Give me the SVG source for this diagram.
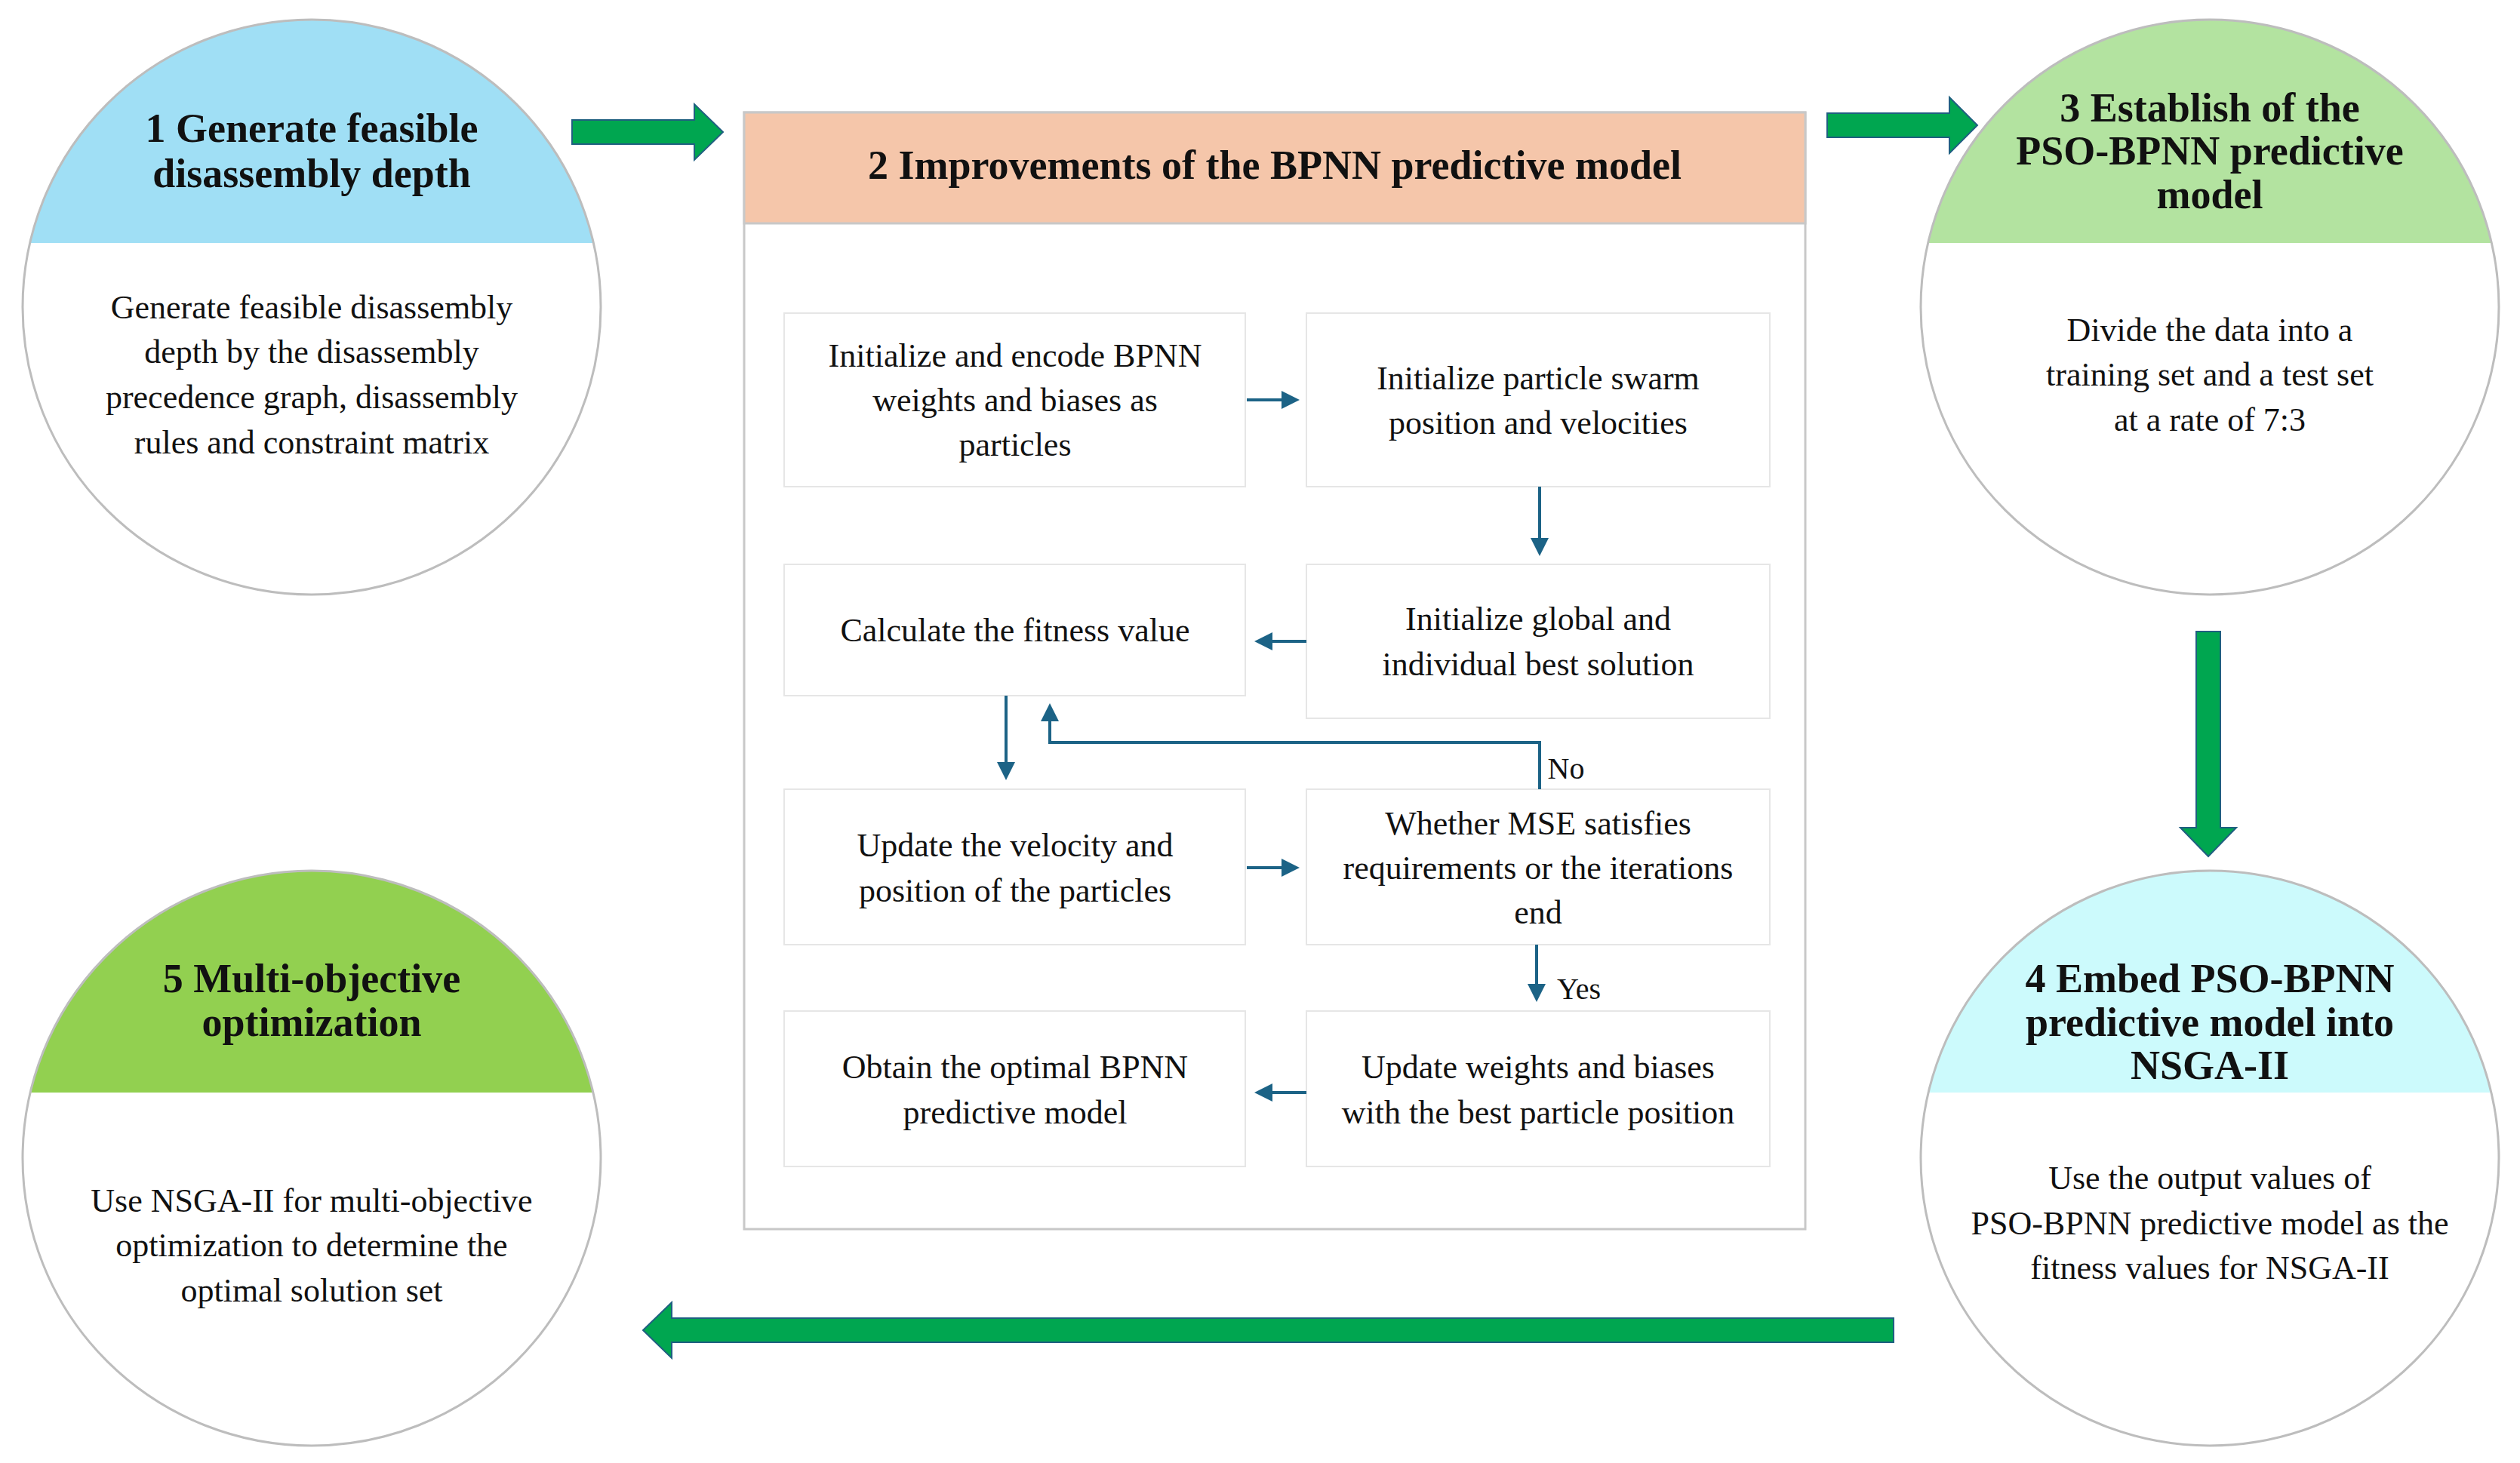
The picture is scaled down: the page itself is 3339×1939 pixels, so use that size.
<svg xmlns="http://www.w3.org/2000/svg" width="3339" height="1939" viewBox="0 0 3339 1939">
<style>
text{font-family:"Liberation Serif","Times New Roman",serif;text-anchor:middle;dominant-baseline:central;fill:#111}
.t{font-size:54px;font-weight:bold}
.b{font-size:44px}
.ring{fill:none;stroke:#bdbdbd;stroke-width:3}
.box{fill:#fff;stroke:#e6e6e6;stroke-width:2}
.c{stroke:#1c6386;stroke-width:4;fill:none;marker-end:url(#ah)}
.g{fill:#00a650;stroke:#1f5f80;stroke-width:2}
</style>
<defs>
<marker id="ah" markerWidth="6" markerHeight="6" refX="5" refY="3" orient="auto" markerUnits="strokeWidth"><path d="M0,0 L6,3 L0,6 z" fill="#1c6386"/></marker>
<clipPath id="c1"><ellipse cx="413" cy="407" rx="383" ry="381"/></clipPath>
<clipPath id="c3"><ellipse cx="2928" cy="407" rx="383" ry="381"/></clipPath>
<clipPath id="c4"><ellipse cx="2928" cy="1535" rx="383" ry="381"/></clipPath>
<clipPath id="c5"><ellipse cx="413" cy="1535" rx="383" ry="381"/></clipPath>
</defs>
<rect width="3339" height="1939" fill="#fff"/>
<g id="n1">
<ellipse cx="413" cy="407" rx="383" ry="381" fill="#fff"/>
<rect x="0" y="0" width="820" height="322" fill="#a0dff5" clip-path="url(#c1)"/>
<ellipse class="ring" cx="413" cy="407" rx="383" ry="381"/>
<text class="t" x="413" y="170">1 Generate feasible</text><text class="t" x="413" y="230">disassembly depth</text>
<text class="b" x="413" y="407">Generate  feasible disassembly</text><text class="b" x="413" y="466">depth by the disassembly</text><text class="b" x="413" y="526">precedence graph, disassembly</text><text class="b" x="413" y="586">rules and constraint matrix</text>
</g>
<g id="n3">
<ellipse cx="2928" cy="407" rx="383" ry="381" fill="#fff"/>
<rect x="2500" y="0" width="860" height="322" fill="#b3e3a0" clip-path="url(#c3)"/>
<ellipse class="ring" cx="2928" cy="407" rx="383" ry="381"/>
<text class="t" x="2928" y="143">3 Establish of the</text><text class="t" x="2928" y="200">PSO-BPNN predictive</text><text class="t" x="2928" y="258">model</text>
<text class="b" x="2928" y="437">Divide  the data into a</text><text class="b" x="2928" y="496">training set and a test set</text><text class="b" x="2928" y="556">at a rate of 7:3</text>
</g>
<g id="n4">
<ellipse cx="2928" cy="1535" rx="383" ry="381" fill="#fff"/>
<rect x="2500" y="1100" width="860" height="348" fill="#ccfafc" clip-path="url(#c4)"/>
<ellipse class="ring" cx="2928" cy="1535" rx="383" ry="381"/>
<text class="t" x="2928" y="1297">4 Embed PSO-BPNN</text><text class="t" x="2928" y="1355">predictive model into</text><text class="t" x="2928" y="1412">NSGA-II</text>
<text class="b" x="2928" y="1561">Use the output values of</text><text class="b" x="2928" y="1621">PSO-BPNN predictive model as the</text><text class="b" x="2928" y="1680">fitness values for NSGA-II</text>
</g>
<g id="n5">
<ellipse cx="413" cy="1535" rx="383" ry="381" fill="#fff"/>
<rect x="0" y="1100" width="820" height="348" fill="#92d050" clip-path="url(#c5)"/>
<ellipse class="ring" cx="413" cy="1535" rx="383" ry="381"/>
<text class="t" x="413" y="1297">5 Multi-objective</text><text class="t" x="413" y="1355">optimization</text>
<text class="b" x="413" y="1591">Use NSGA-II for multi-objective</text><text class="b" x="413" y="1650">optimization to determine the</text><text class="b" x="413" y="1710">optimal solution set</text>
</g>
<g id="n2">
<rect x="986" y="149" width="1406" height="1480" fill="#fff" stroke="#c8c8c8" stroke-width="3"/>
<rect x="986" y="149" width="1406" height="147" fill="#f5c6aa" stroke="#c8c8c8" stroke-width="3"/>
<text class="t" x="1689" y="219">2 Improvements of the BPNN predictive model</text>
</g>
<g id="b1"><rect class="box" x="1039" y="415" width="611" height="230"/><text class="b" x="1345" y="471">Initialize and encode  BPNN</text><text class="b" x="1345" y="530">weights and biases as</text><text class="b" x="1345" y="589">particles</text></g>
<g id="b2"><rect class="box" x="1731" y="415" width="614" height="230"/><text class="b" x="2038" y="501">Initialize particle swarm</text><text class="b" x="2038" y="560">position and velocities</text></g>
<g id="b3"><rect class="box" x="1039" y="748" width="611" height="174"/><text class="b" x="1345" y="835">Calculate the fitness value</text></g>
<g id="b4"><rect class="box" x="1731" y="748" width="614" height="204"/><text class="b" x="2038" y="820">Initialize  global and</text><text class="b" x="2038" y="880">individual best solution</text></g>
<g id="b5"><rect class="box" x="1039" y="1046" width="611" height="206"/><text class="b" x="1345" y="1120">Update the velocity and</text><text class="b" x="1345" y="1180">position of the particles</text></g>
<g id="b6"><rect class="box" x="1731" y="1046" width="614" height="206"/><text class="b" x="2038" y="1091">Whether MSE satisfies</text><text class="b" x="2038" y="1150">requirements or the iterations</text><text class="b" x="2038" y="1209">end</text></g>
<g id="b7"><rect class="box" x="1039" y="1340" width="611" height="206"/><text class="b" x="1345" y="1414">Obtain the optimal BPNN</text><text class="b" x="1345" y="1474">predictive model</text></g>
<g id="b8"><rect class="box" x="1731" y="1340" width="614" height="206"/><text class="b" x="2038" y="1414">Update weights and biases</text><text class="b" x="2038" y="1474">with the best particle position</text></g>
<g id="connectors">
<path class="g" d="M758,159 H920 V138 L958,175 L920,212 V191 H758 Z"/>
<path class="g" d="M2421,150 H2583 V129 L2620,166 L2583,203 V182 H2421 Z"/>
<path class="g" d="M2910,837 H2942 V1097 H2963 L2926,1135 L2889,1097 H2910 Z"/>
<path class="g" d="M2509,1747 V1779 H890 V1800 L852,1763 L890,1726 V1747 Z"/>
<path class="c" d="M1652,530 H1718"/>
<path class="c" d="M2040,645 V733"/>
<path class="c" d="M1731,850 H1666"/>
<path class="c" d="M1333,922 V1030"/>
<path class="c" d="M2040,1046 V984 H1391 V936"/>
<path class="c" d="M1652,1150 H1718"/>
<path class="c" d="M2036,1252 V1324"/>
<path class="c" d="M1731,1448 H1666"/>
<text style="font-size:40px" x="2075" y="1018">No</text>
<text style="font-size:40px" x="2092" y="1310">Yes</text>
</g>
</svg>
